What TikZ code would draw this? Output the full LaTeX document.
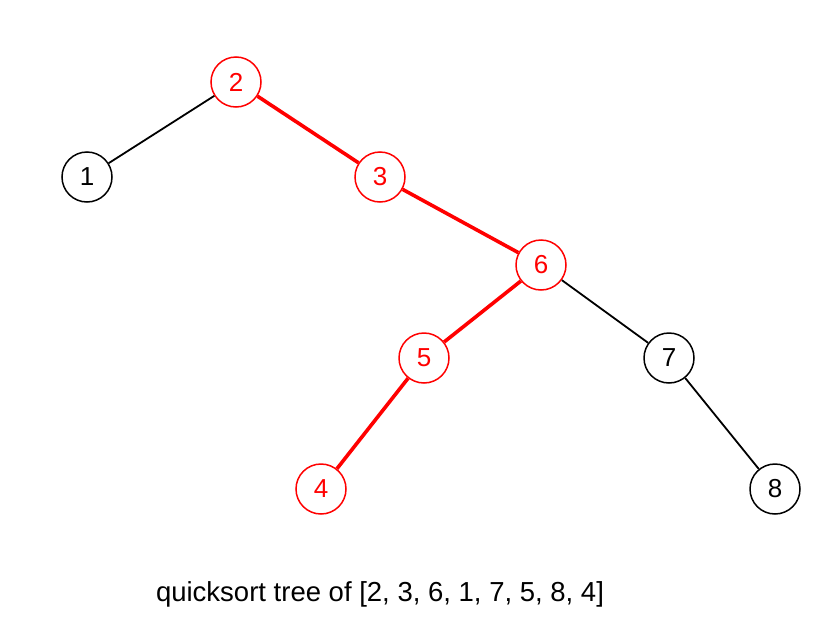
\documentclass[tikz,border=0pt]{standalone}
\usepackage{fontspec}
\setmainfont{Liberation Sans}
\begin{document}
\begin{tikzpicture}[x=1pt,y=-1pt,
  tnode/.style={circle,draw=black,line width=1.5pt,minimum size=50pt,inner sep=0pt,font=\fontsize{26}{30}\selectfont,text=black,fill=white},
  rnode/.style={tnode,draw=red,text=red},
  bedge/.style={draw=black,line width=1.8pt},
  redge/.style={draw=red,line width=3.6pt}]
\useasboundingbox (0,0) rectangle (825,624);
\node[rnode] (n2) at (236,82) {2};
\node[tnode] (n1) at (87,177) {1};
\node[rnode] (n3) at (380,177) {3};
\node[rnode] (n6) at (541,265) {6};
\node[rnode] (n5) at (424,358) {5};
\node[tnode] (n7) at (669,358) {7};
\node[rnode] (n4) at (321,489) {4};
\node[tnode] (n8) at (775,489) {8};
\draw[bedge] (n2) -- (n1);
\draw[redge] (n2) -- (n3);
\draw[redge] (n3) -- (n6);
\draw[redge] (n6) -- (n5);
\draw[bedge] (n6) -- (n7);
\draw[redge] (n5) -- (n4);
\draw[bedge] (n7) -- (n8);
\node[font=\fontsize{27.5}{32}\selectfont] (cap) at (380,594) {quicksort tree of [2, 3, 6, 1, 7, 5, 8, 4]};
\end{tikzpicture}
\end{document}
